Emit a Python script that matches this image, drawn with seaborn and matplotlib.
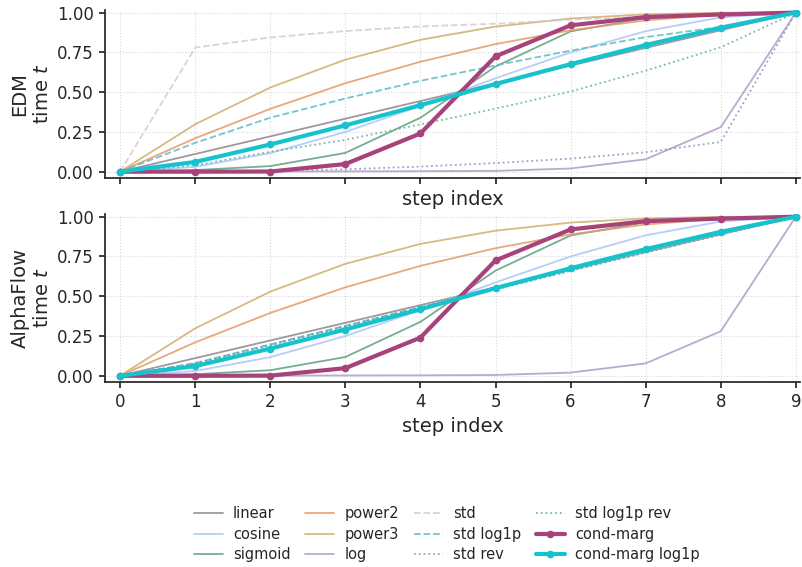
import numpy as np
import pandas as pd
import matplotlib
matplotlib.use("Agg")
import matplotlib.pyplot as plt
import seaborn as sns

steps = list(range(10))

# shared schedules
linear = [0, 0.111, 0.222, 0.333, 0.444, 0.556, 0.667, 0.778, 0.889, 1.0]
cosine = [0, 0.030, 0.117, 0.250, 0.413, 0.587, 0.750, 0.883, 0.970, 1.0]
sigmoid = [0, 0.010, 0.035, 0.118, 0.339, 0.661, 0.882, 0.965, 0.990, 1.0]
power2 = [0, 0.210, 0.395, 0.556, 0.691, 0.802, 0.889, 0.951, 0.988, 1.0]
power3 = [0, 0.298, 0.529, 0.704, 0.829, 0.912, 0.963, 0.989, 0.999, 1.0]
log = [0, 0.0005, 0.001, 0.002, 0.003, 0.005, 0.020, 0.078, 0.280, 1.0]
cond_marg = [0, 0.0, 0.001, 0.048, 0.240, 0.725, 0.920, 0.972, 0.988, 1.0]
cond_marg_log1p = [0, 0.061, 0.171, 0.291, 0.418, 0.551, 0.676, 0.796, 0.905, 1.0]

# EDM std schedules
edm_std = [0, 0.780, 0.844, 0.884, 0.913, 0.930, 0.955, 0.975, 0.990, 1.0]
edm_std_log1p = [0, 0.181, 0.339, 0.460, 0.571, 0.668, 0.761, 0.846, 0.910, 1.0]
edm_std_rev = [0, 0.002, 0.006, 0.015, 0.032, 0.054, 0.082, 0.122, 0.187, 1.0]
edm_std_log1p_rev = [0, 0.040, 0.125, 0.200, 0.297, 0.396, 0.504, 0.635, 0.782, 1.0]

# AlphaFlow std schedules
af_std = [0, 0.078, 0.195, 0.312, 0.430, 0.545, 0.662, 0.777, 0.890, 1.0]
af_std_log1p = [0, 0.080, 0.197, 0.314, 0.432, 0.547, 0.664, 0.779, 0.892, 1.0]
af_std_rev = [0, 0.076, 0.193, 0.310, 0.428, 0.543, 0.660, 0.775, 0.888, 1.0]
af_std_log1p_rev = [0, 0.077, 0.194, 0.311, 0.429, 0.544, 0.661, 0.776, 0.889, 1.0]

panel_names = ["EDM", "AlphaFlow"]

labels = ["linear", "cosine", "sigmoid", "power2", "power3", "log",
          "std", "std log1p", "std rev", "std log1p rev",
          "cond-marg", "cond-marg log1p"]
colors = ["#8e8590", "#a9c6f7", "#5f9f7e", "#e59966", "#cfae6a", "#b09ac6",
          "#d7c9d2", "#5cbcc2", "#8a94bc", "#5fb0a0", "#a8427a", "#16c3cd"]
styles = ["-", "-", "-", "-", "-", "-", "--", "--", ":", ":", "-", "-"]

panels = [
    [linear, cosine, sigmoid, power2, power3, log,
     edm_std, edm_std_log1p, edm_std_rev, edm_std_log1p_rev,
     cond_marg, cond_marg_log1p],
    [linear, cosine, sigmoid, power2, power3, log,
     af_std, af_std_log1p, af_std_rev, af_std_log1p_rev,
     cond_marg, cond_marg_log1p],
]

sns.set_theme(style="ticks")
plt.rcParams["font.family"] = ["DejaVu Sans"]

fig = plt.figure(figsize=(8.02, 5.67), dpi=100)
ax1 = fig.add_axes([0.131, 0.686, 0.866, 0.296])
ax2 = fig.add_axes([0.131, 0.326, 0.866, 0.296])

for i, (ax, name, series) in enumerate(zip([ax1, ax2], panel_names, panels)):
    for lab, col, ls, vals in zip(labels, colors, styles, series):
        thick = lab.startswith("cond-marg")
        df = pd.DataFrame({"step": steps, "t": vals})
        sns.lineplot(data=df, x="step", y="t", ax=ax, color=col,
                     linestyle=ls,
                     linewidth=3.0 if thick else 1.3,
                     alpha=1.0 if thick else 0.85,
                     marker="o" if thick else None,
                     markersize=5.5 if thick else 0,
                     markeredgewidth=0,
                     label=lab, legend=False, zorder=5 if thick else 2)
    ax.set_xlim(-0.2, 9.05)
    ax.set_ylim(-0.04, 1.015)
    ax.set_xticks(steps)
    ax.set_yticks([0, 0.25, 0.5, 0.75, 1.0])
    ax.set_yticklabels(["0.00", "0.25", "0.50", "0.75", "1.00"])
    ax.tick_params(labelsize=12, length=4.5)
    if i == 0:
        ax.tick_params(axis="x", labelbottom=False)
    ax.grid(True, linestyle=":", color="#d8d8d8", linewidth=0.8)
    ax.set_axisbelow(True)
    ax.set_xlabel("step index", fontsize=14, labelpad=4)
    ax.set_ylabel(f"{name}\ntime $t$", fontsize=14)
    sns.despine(ax=ax)

handles, labs = ax1.get_legend_handles_labels()
fig.legend(handles, labs, loc="center", bbox_to_anchor=(0.557, 0.058),
           ncol=4, frameon=False, fontsize=10.5, handlelength=2.0,
           columnspacing=1.0, labelspacing=0.4, handletextpad=0.7)

fig.savefig("out.png", dpi=100)
